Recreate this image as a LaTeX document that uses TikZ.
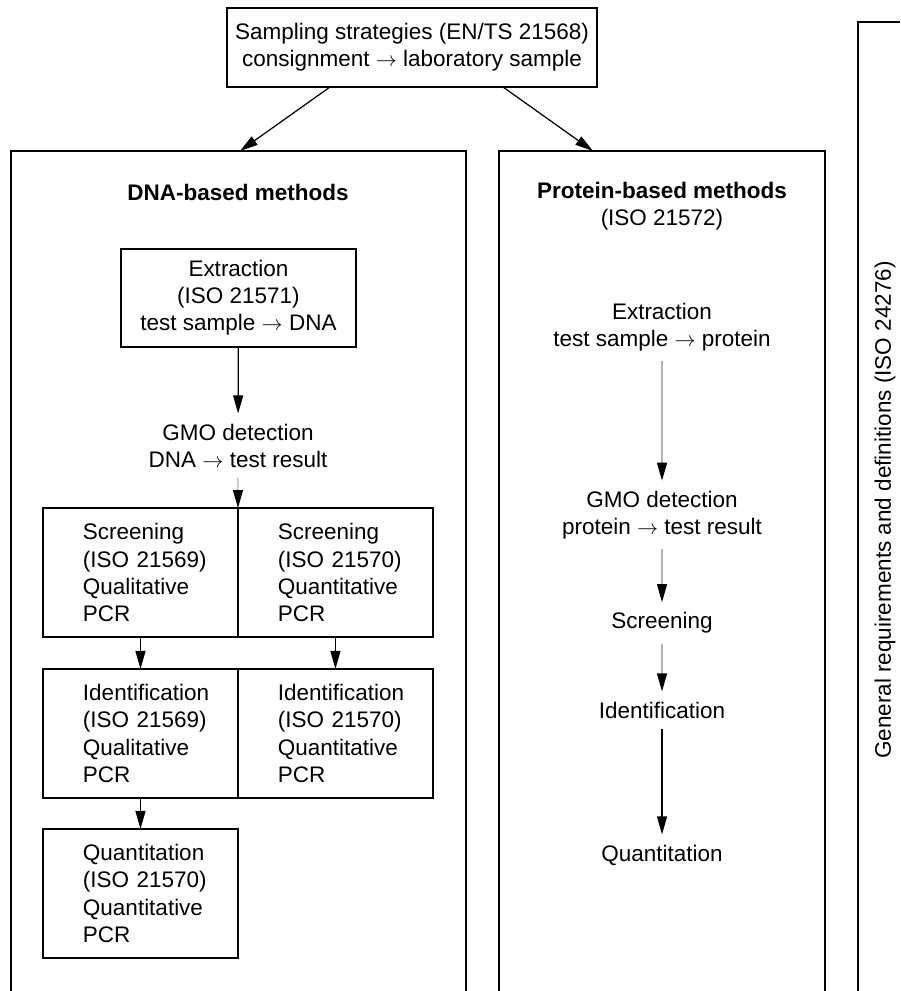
\documentclass[tikz,border=0pt]{standalone}
\usepackage{fontspec}
\setmainfont{Liberation Sans}
\usetikzlibrary{arrows.meta,positioning}
\hyphenpenalty=10000
\newcommand{\diagfont}{\fontsize{12.8}{15.4}\selectfont}

\begin{document}
\begin{tikzpicture}[
        x=0.02cm, y=-0.02cm,
        font=\diagfont,
        >={Triangle[length=0.36cm,width=0.2cm]},
        panel/.style={draw, line width=0.9pt},
        block/.style={draw, rectangle, line width=0.8pt, outer sep=0pt, align=center},
        method/.style={draw, rectangle, line width=0.8pt, outer sep=0pt, minimum width=3.9cm, minimum height=2.58cm, text width=2.3cm, inner xsep=0.8cm, align=left},
        stage/.style={align=center, inner sep=0.2cm},
        flow/.style={->, line width=0.7pt},
        greyflow/.style={-{Triangle[length=0.36cm,width=0.2cm,color=black]}, line width=0.7pt, draw=gray!60}
    ]
        \useasboundingbox (0,0) rectangle (900,991);

        % Sampling
        \node (samp) [block, minimum width=7.4cm, minimum height=1.58cm] at (412,47.5) {Sampling strategies (EN/TS 21568)\\consignment $\rightarrow$ laboratory sample};

        % Panels
        \draw[panel] (11,991) |- (466,151) -- (466,991);
        \draw[panel] (499,991) |- (825,151) -- (825,991);
        \draw[panel] (900,22) -| (858,991);
        \coordinate (dnain) at (240,151);
        \coordinate (protin) at (593,151);
        \draw[flow] ([xshift=-1.64cm]samp.south) -- (dnain);
        \draw[flow] ([xshift=1.82cm]samp.south) -- (protin);

        % DNA-based methods
        \node (dnatitle) [font=\diagfont\bfseries] at (238,192) {DNA-based methods};
        \node (dnaext) [block, minimum width=4.7cm, minimum height=1.96cm] at (238.5,298) {Extraction\\(ISO 21571)\\test sample $\rightarrow$ DNA};
        \node (dnagmo) [stage] at (238,445.5) {GMO detection\\DNA $\rightarrow$ test result};
        \node (scrL) [method, anchor=north west] at (43,508) {Screening\\(ISO~21569)\\Qualitative\\PCR};
        \node (scrR) [method, right=0pt of scrL] {Screening\\(ISO~21570)\\Quantitative\\PCR};
        \node (idL) [method, below=0.64cm of scrL] {Identification\\(ISO~21569)\\Qualitative\\PCR};
        \node (idR) [method, right=0pt of idL] {Identification\\(ISO~21570)\\Quantitative\\PCR};
        \node (quL) [method, below=0.62cm of idL] {Quantitation\\(ISO~21570)\\Quantitative\\PCR};

        \draw[flow] (dnaext) -- (dnagmo);
        \draw[greyflow] (dnagmo) -- (scrL.north east);
        \draw[flow] (scrL) -- (idL);
        \draw[flow] (scrR) -- (idR);
        \draw[flow] (idL) -- (quL);

        % Protein-based methods
        \node (prottitle) [align=center] at (662,206) {{\bfseries Protein-based methods}\\(ISO 21572)};
        \node (protext) [stage] at (662,327) {Extraction\\test sample $\rightarrow$ protein};
        \node (protgmo) [stage] at (662,515) {GMO detection\\protein $\rightarrow$ test result};
        \node (protscr) [stage] at (662,623) {Screening};
        \node (protid) [stage] at (662,710) {Identification};
        \node (protqu) [stage] at (662,855) {Quantitation};

        \draw[greyflow] (protext) -- (protgmo);
        \draw[greyflow] (protgmo) -- (protscr);
        \draw[greyflow] (protscr) -- (protid);
        \draw[flow] (protid) -- (protqu);

        % General requirements
        \node (general) [rotate=90] at (885,510) {General requirements and definitions (ISO 24276)};
    \end{tikzpicture}
\end{document}
